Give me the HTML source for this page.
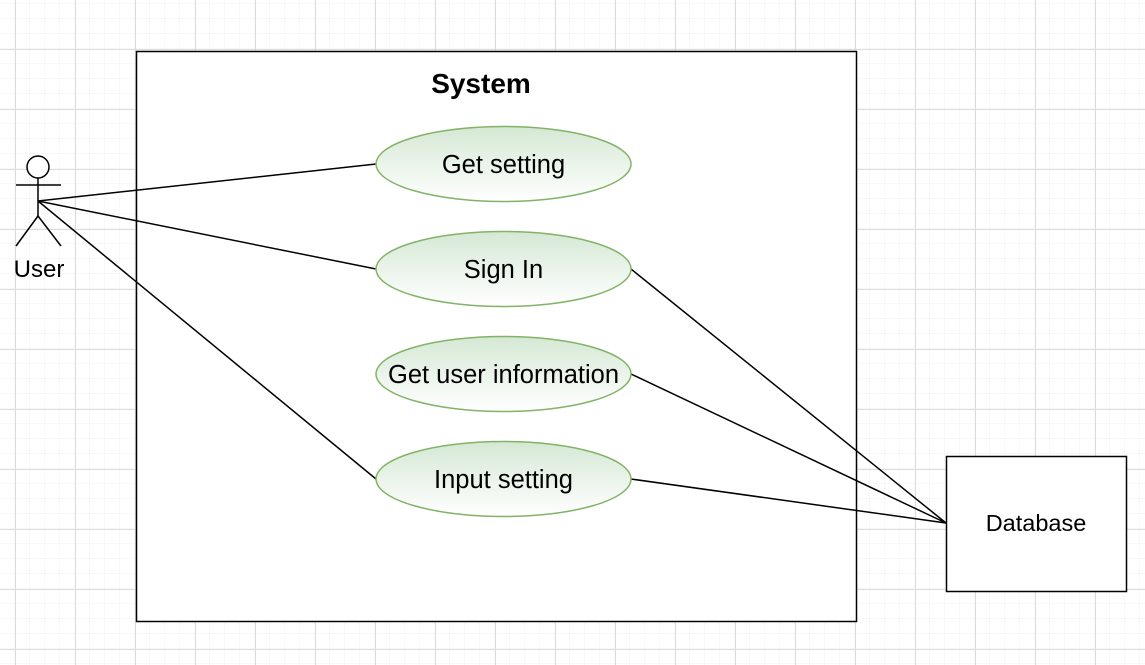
<!DOCTYPE html>
<html><head><meta charset="utf-8"><style>
html,body{margin:0;padding:0;background:#fff;}
svg{display:block;font-family:"Liberation Sans",Arial,sans-serif;}
</style></head><body>
<svg width="1145" height="665" viewBox="0 0 1145 665" xmlns="http://www.w3.org/2000/svg">
<defs>
<pattern id="minor" x="0" y="4" width="15" height="15" patternUnits="userSpaceOnUse">
<path d="M15 0V15M0 15H15" fill="none" stroke="#f0f0f0" stroke-width="1"/>
</pattern>
<pattern id="major" x="15" y="49" width="60" height="60" patternUnits="userSpaceOnUse">
<path d="M0.5 0V60M0 0.5H60" fill="none" stroke="#dcdcdc" stroke-width="1"/>
</pattern>
<linearGradient id="g" x1="0" y1="0" x2="0" y2="1">
<stop offset="0" stop-color="#d5e8d4"/><stop offset="1" stop-color="#ffffff"/>
</linearGradient>
</defs>
<rect width="1145" height="665" fill="#fff"/>
<rect width="1145" height="665" fill="url(#minor)"/>
<rect width="1145" height="665" fill="url(#major)"/>
<rect x="136.5" y="51.5" width="720" height="570" fill="#fff" stroke="#000" stroke-width="1.5"/>
<text x="481" y="93" font-size="28" font-weight="bold" text-anchor="middle">System</text>
<rect x="946.5" y="456.5" width="180" height="135" fill="#fff" stroke="#000" stroke-width="1.5"/>
<text x="1036" y="531" font-size="23.5" text-anchor="middle">Database</text>
<g stroke="#000" stroke-width="1.5" fill="none">
<line x1="38" y1="201" x2="376" y2="164"/>
<line x1="38" y1="201" x2="376" y2="269"/>
<line x1="38" y1="201" x2="376" y2="479"/>
<line x1="631" y1="269" x2="946" y2="523"/>
<line x1="631" y1="374" x2="946" y2="523"/>
<line x1="631" y1="479" x2="946" y2="523"/>
<circle cx="38" cy="167" r="11" fill="#fff"/>
<line x1="16" y1="185" x2="61" y2="185"/>
<line x1="38" y1="178" x2="38" y2="216"/>
<line x1="38" y1="216" x2="16" y2="246"/>
<line x1="38" y1="216" x2="61" y2="246"/>
</g>
<text x="39" y="277" font-size="24" text-anchor="middle">User</text>
<g stroke="#82b366" stroke-width="1.5" fill="url(#g)">
<ellipse cx="503.5" cy="164" rx="127.5" ry="37.5"/>
<ellipse cx="503.5" cy="269" rx="127.5" ry="37.5"/>
<ellipse cx="503.5" cy="374" rx="127.5" ry="37.5"/>
<ellipse cx="503.5" cy="479" rx="127.5" ry="37.5"/>
</g>
<g font-size="25.5" text-anchor="middle">
<text x="503.5" y="173">Get setting</text>
<text x="503.5" y="278">Sign In</text>
<text x="503.5" y="383">Get user information</text>
<text x="503.5" y="488">Input setting</text>
</g>
</svg>
</body></html>
